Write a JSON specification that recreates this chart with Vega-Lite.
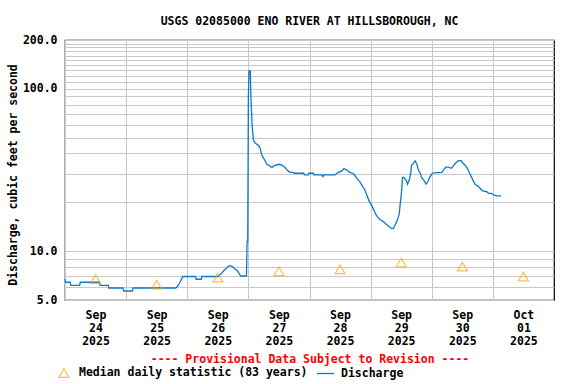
{
  "$schema": "https://vega.github.io/schema/vega-lite/v6.json",
  "width": 489,
  "height": 260,
  "autosize": "none",
  "padding": {"left": 65, "top": 40, "right": 22, "bottom": 84},
  "title": {"text": "USGS 02085000 ENO RIVER AT HILLSBOROUGH, NC", "offset": -4, "baseline": "bottom", "anchor": "middle", "frame": "group"},
  "config": {
    "font": "DejaVu Sans Mono",
    "view": {"stroke": "#000000", "strokeWidth": 1.2},
    "title": {"font": "DejaVu Sans Mono", "fontSize": 11.5, "fontWeight": "bold", "color": "#000000"},
    "axis": {
      "labelFont": "DejaVu Sans Mono", "labelFontSize": 11.5, "labelFontWeight": "bold", "labelColor": "#000000",
      "titleFont": "DejaVu Sans Mono", "titleFontSize": 11.5, "titleFontWeight": "bold", "titleColor": "#000000",
      "gridColor": "#c8c8c8", "gridWidth": 1, "gridOpacity": 1, "ticks": false, "tickSize": 0, "domain": false
    },
    "legend": {"labelFont": "DejaVu Sans Mono", "labelFontSize": 11.5, "labelFontWeight": "bold", "labelColor": "#000000", "labelLimit": 0}
  },
  "datasets": {
    "discharge": [
      {"dateTime": "2025-09-24T00:00", "cfs": 6.73},
      {"dateTime": "2025-09-24T00:15", "cfs": 6.43},
      {"dateTime": "2025-09-24T02:00", "cfs": 6.43},
      {"dateTime": "2025-09-24T02:15", "cfs": 6.16},
      {"dateTime": "2025-09-24T05:45", "cfs": 6.16},
      {"dateTime": "2025-09-24T06:00", "cfs": 6.43},
      {"dateTime": "2025-09-24T13:30", "cfs": 6.43},
      {"dateTime": "2025-09-24T13:45", "cfs": 6.16},
      {"dateTime": "2025-09-24T17:00", "cfs": 6.16},
      {"dateTime": "2025-09-24T17:15", "cfs": 5.93},
      {"dateTime": "2025-09-24T22:45", "cfs": 5.93},
      {"dateTime": "2025-09-24T23:00", "cfs": 5.68},
      {"dateTime": "2025-09-25T02:30", "cfs": 5.68},
      {"dateTime": "2025-09-25T02:45", "cfs": 5.93},
      {"dateTime": "2025-09-25T19:30", "cfs": 5.93},
      {"dateTime": "2025-09-25T20:15", "cfs": 6.10},
      {"dateTime": "2025-09-25T21:00", "cfs": 6.36},
      {"dateTime": "2025-09-25T21:45", "cfs": 6.73},
      {"dateTime": "2025-09-25T22:15", "cfs": 6.98},
      {"dateTime": "2025-09-26T03:15", "cfs": 6.98},
      {"dateTime": "2025-09-26T03:30", "cfs": 6.71},
      {"dateTime": "2025-09-26T05:30", "cfs": 6.71},
      {"dateTime": "2025-09-26T05:45", "cfs": 6.98},
      {"dateTime": "2025-09-26T12:00", "cfs": 6.98},
      {"dateTime": "2025-09-26T13:30", "cfs": 7.30},
      {"dateTime": "2025-09-26T14:15", "cfs": 7.54},
      {"dateTime": "2025-09-26T15:15", "cfs": 7.82},
      {"dateTime": "2025-09-26T16:15", "cfs": 8.10},
      {"dateTime": "2025-09-26T17:00", "cfs": 8.15},
      {"dateTime": "2025-09-26T17:45", "cfs": 8.04},
      {"dateTime": "2025-09-26T18:30", "cfs": 7.82},
      {"dateTime": "2025-09-26T19:45", "cfs": 7.54},
      {"dateTime": "2025-09-26T21:00", "cfs": 7.03},
      {"dateTime": "2025-09-26T23:15", "cfs": 7.03},
      {"dateTime": "2025-09-26T23:30", "cfs": 11.5},
      {"dateTime": "2025-09-26T23:45", "cfs": 11.5},
      {"dateTime": "2025-09-27T00:00", "cfs": 89.5},
      {"dateTime": "2025-09-27T00:15", "cfs": 128.8},
      {"dateTime": "2025-09-27T00:45", "cfs": 128.8},
      {"dateTime": "2025-09-27T01:00", "cfs": 89.5},
      {"dateTime": "2025-09-27T01:15", "cfs": 72.3},
      {"dateTime": "2025-09-27T01:30", "cfs": 58.5},
      {"dateTime": "2025-09-27T02:00", "cfs": 48.4},
      {"dateTime": "2025-09-27T02:45", "cfs": 46.2},
      {"dateTime": "2025-09-27T03:45", "cfs": 45.1},
      {"dateTime": "2025-09-27T04:30", "cfs": 43.6},
      {"dateTime": "2025-09-27T05:15", "cfs": 39.1},
      {"dateTime": "2025-09-27T06:15", "cfs": 36.8},
      {"dateTime": "2025-09-27T07:15", "cfs": 34.3},
      {"dateTime": "2025-09-27T08:30", "cfs": 33.5},
      {"dateTime": "2025-09-27T09:15", "cfs": 32.7},
      {"dateTime": "2025-09-27T10:00", "cfs": 33.5},
      {"dateTime": "2025-09-27T12:00", "cfs": 34.3},
      {"dateTime": "2025-09-27T13:00", "cfs": 34.0},
      {"dateTime": "2025-09-27T14:15", "cfs": 33.0},
      {"dateTime": "2025-09-27T15:15", "cfs": 31.6},
      {"dateTime": "2025-09-27T16:15", "cfs": 30.6},
      {"dateTime": "2025-09-27T17:45", "cfs": 30.6},
      {"dateTime": "2025-09-27T18:00", "cfs": 30.2},
      {"dateTime": "2025-09-27T21:45", "cfs": 30.2},
      {"dateTime": "2025-09-27T22:00", "cfs": 29.5},
      {"dateTime": "2025-09-27T23:30", "cfs": 29.5},
      {"dateTime": "2025-09-27T23:45", "cfs": 30.2},
      {"dateTime": "2025-09-28T01:30", "cfs": 30.2},
      {"dateTime": "2025-09-28T01:45", "cfs": 29.5},
      {"dateTime": "2025-09-28T04:45", "cfs": 29.5},
      {"dateTime": "2025-09-28T05:15", "cfs": 28.8},
      {"dateTime": "2025-09-28T05:45", "cfs": 29.5},
      {"dateTime": "2025-09-28T10:00", "cfs": 29.5},
      {"dateTime": "2025-09-28T11:00", "cfs": 30.4},
      {"dateTime": "2025-09-28T12:45", "cfs": 31.2},
      {"dateTime": "2025-09-28T13:30", "cfs": 32.3},
      {"dateTime": "2025-09-28T14:15", "cfs": 31.8},
      {"dateTime": "2025-09-28T15:00", "cfs": 31.4},
      {"dateTime": "2025-09-28T15:45", "cfs": 30.6},
      {"dateTime": "2025-09-28T17:00", "cfs": 30.2},
      {"dateTime": "2025-09-28T17:45", "cfs": 29.5},
      {"dateTime": "2025-09-28T18:30", "cfs": 28.2},
      {"dateTime": "2025-09-28T19:45", "cfs": 26.8},
      {"dateTime": "2025-09-28T20:30", "cfs": 25.6},
      {"dateTime": "2025-09-28T21:45", "cfs": 23.8},
      {"dateTime": "2025-09-28T22:30", "cfs": 22.2},
      {"dateTime": "2025-09-28T23:30", "cfs": 20.2},
      {"dateTime": "2025-09-29T00:30", "cfs": 19.1},
      {"dateTime": "2025-09-29T01:15", "cfs": 17.9},
      {"dateTime": "2025-09-29T02:00", "cfs": 16.9},
      {"dateTime": "2025-09-29T02:45", "cfs": 16.2},
      {"dateTime": "2025-09-29T03:45", "cfs": 15.6},
      {"dateTime": "2025-09-29T05:00", "cfs": 15.2},
      {"dateTime": "2025-09-29T06:15", "cfs": 14.6},
      {"dateTime": "2025-09-29T07:30", "cfs": 14.1},
      {"dateTime": "2025-09-29T08:00", "cfs": 13.8},
      {"dateTime": "2025-09-29T09:00", "cfs": 13.8},
      {"dateTime": "2025-09-29T09:30", "cfs": 14.4},
      {"dateTime": "2025-09-29T10:15", "cfs": 15.2},
      {"dateTime": "2025-09-29T11:15", "cfs": 16.9},
      {"dateTime": "2025-09-29T11:30", "cfs": 18.8},
      {"dateTime": "2025-09-29T12:00", "cfs": 21.9},
      {"dateTime": "2025-09-29T12:15", "cfs": 24.4},
      {"dateTime": "2025-09-29T12:30", "cfs": 28.5},
      {"dateTime": "2025-09-29T13:00", "cfs": 28.5},
      {"dateTime": "2025-09-29T14:00", "cfs": 27.2},
      {"dateTime": "2025-09-29T14:30", "cfs": 25.9},
      {"dateTime": "2025-09-29T15:15", "cfs": 27.7},
      {"dateTime": "2025-09-29T15:45", "cfs": 30.2},
      {"dateTime": "2025-09-29T16:00", "cfs": 33.5},
      {"dateTime": "2025-09-29T16:45", "cfs": 34.8},
      {"dateTime": "2025-09-29T17:30", "cfs": 36.1},
      {"dateTime": "2025-09-29T18:15", "cfs": 34.0},
      {"dateTime": "2025-09-29T18:45", "cfs": 31.6},
      {"dateTime": "2025-09-29T19:30", "cfs": 30.2},
      {"dateTime": "2025-09-29T20:00", "cfs": 28.5},
      {"dateTime": "2025-09-29T21:00", "cfs": 27.2},
      {"dateTime": "2025-09-29T21:45", "cfs": 25.9},
      {"dateTime": "2025-09-29T22:30", "cfs": 26.8},
      {"dateTime": "2025-09-29T23:00", "cfs": 28.1},
      {"dateTime": "2025-09-30T00:00", "cfs": 29.9},
      {"dateTime": "2025-09-30T00:45", "cfs": 30.4},
      {"dateTime": "2025-09-30T04:00", "cfs": 30.6},
      {"dateTime": "2025-09-30T04:30", "cfs": 31.6},
      {"dateTime": "2025-09-30T05:30", "cfs": 32.9},
      {"dateTime": "2025-09-30T06:30", "cfs": 32.9},
      {"dateTime": "2025-09-30T07:45", "cfs": 32.4},
      {"dateTime": "2025-09-30T08:30", "cfs": 33.5},
      {"dateTime": "2025-09-30T09:30", "cfs": 35.1},
      {"dateTime": "2025-09-30T10:30", "cfs": 36.1},
      {"dateTime": "2025-09-30T11:30", "cfs": 36.1},
      {"dateTime": "2025-09-30T12:15", "cfs": 34.8},
      {"dateTime": "2025-09-30T13:00", "cfs": 34.0},
      {"dateTime": "2025-09-30T14:00", "cfs": 32.4},
      {"dateTime": "2025-09-30T14:45", "cfs": 30.4},
      {"dateTime": "2025-09-30T15:30", "cfs": 28.8},
      {"dateTime": "2025-09-30T16:15", "cfs": 27.2},
      {"dateTime": "2025-09-30T17:00", "cfs": 25.8},
      {"dateTime": "2025-09-30T18:00", "cfs": 25.2},
      {"dateTime": "2025-09-30T19:00", "cfs": 24.4},
      {"dateTime": "2025-09-30T19:45", "cfs": 23.6},
      {"dateTime": "2025-09-30T21:45", "cfs": 23.2},
      {"dateTime": "2025-09-30T22:15", "cfs": 22.7},
      {"dateTime": "2025-09-30T23:30", "cfs": 22.7},
      {"dateTime": "2025-10-01T00:15", "cfs": 22.2},
      {"dateTime": "2025-10-01T01:30", "cfs": 21.9},
      {"dateTime": "2025-10-01T03:15", "cfs": 21.9}
    ],
    "median": [
      {"dateTime": "2025-09-24T12:00", "cfs": 6.73},
      {"dateTime": "2025-09-25T12:00", "cfs": 6.23},
      {"dateTime": "2025-09-26T12:00", "cfs": 6.88},
      {"dateTime": "2025-09-27T12:00", "cfs": 7.51},
      {"dateTime": "2025-09-28T12:00", "cfs": 7.73},
      {"dateTime": "2025-09-29T12:00", "cfs": 8.51},
      {"dateTime": "2025-09-30T12:00", "cfs": 8.04},
      {"dateTime": "2025-10-01T12:00", "cfs": 6.97}
    ]
  },
  "encoding": {
    "x": {
      "field": "dateTime", "type": "temporal",
      "scale": {"domain": [{"year": 2025, "month": 9, "date": 24}, {"year": 2025, "month": 10, "date": 2}]},
      "axis": {
        "values": [
          {"year": 2025, "month": 9, "date": 24}, {"year": 2025, "month": 9, "date": 25},
          {"year": 2025, "month": 9, "date": 26}, {"year": 2025, "month": 9, "date": 27},
          {"year": 2025, "month": 9, "date": 28}, {"year": 2025, "month": 9, "date": 29},
          {"year": 2025, "month": 9, "date": 30}, {"year": 2025, "month": 10, "date": 1}
        ],
        "labelExpr": "[timeFormat(datum.value, '%b'), timeFormat(datum.value, '%d'), timeFormat(datum.value, '%Y')]",
        "labelOffset": 30.5, "labelPadding": 9, "labelLineHeight": 13, "labelOverlap": false, "labelFlush": false, "labelBound": false,
        "title": "---- Provisional Data Subject to Revision ----", "titleColor": "#FF0000", "titlePadding": 7
      }
    },
    "y": {
      "field": "cfs", "type": "quantitative",
      "scale": {"type": "log", "domain": [5, 200], "nice": false},
      "axis": {
        "values": [5, 6, 7, 8, 9, 10, 20, 30, 40, 50, 60, 70, 80, 90, 100, 110, 120, 130, 140, 150, 160, 170, 180, 190, 200],
        "labelExpr": "indexof([5, 10, 100, 200], datum.value) >= 0 ? format(datum.value, '.1f') : ''",
        "labelPadding": 8,
        "title": "Discharge, cubic feet per second",
        "titleX": -49, "titleY": 134.5, "titleBaseline": "alphabetic"
      }
    }
  },
  "layer": [
    {
      "data": {"name": "discharge"},
      "mark": {"type": "line", "strokeWidth": 1.3, "interpolate": "linear"},
      "encoding": {
        "color": {
          "datum": "Discharge",
          "scale": {"range": ["#0a7bc9"]},
          "legend": {"title": null, "orient": "none", "legendX": 251, "legendY": 324, "symbolType": "stroke", "symbolSize": 289, "symbolStrokeWidth": 1.3, "labelOffset": 6}
        }
      }
    },
    {
      "data": {"name": "median"},
      "mark": {"type": "point", "filled": false, "color": "#FFA500", "strokeWidth": 1.2, "size": 100},
      "encoding": {
        "shape": {
          "datum": "Median daily statistic (83 years)",
          "scale": {"range": ["triangle-up"]},
          "legend": {"title": null, "orient": "none", "legendX": -7, "legendY": 327, "symbolStrokeColor": "#FFA500", "symbolFillColor": "transparent", "symbolSize": 100, "symbolStrokeWidth": 1.2, "labelOffset": 9}
        }
      }
    }
  ]
}
